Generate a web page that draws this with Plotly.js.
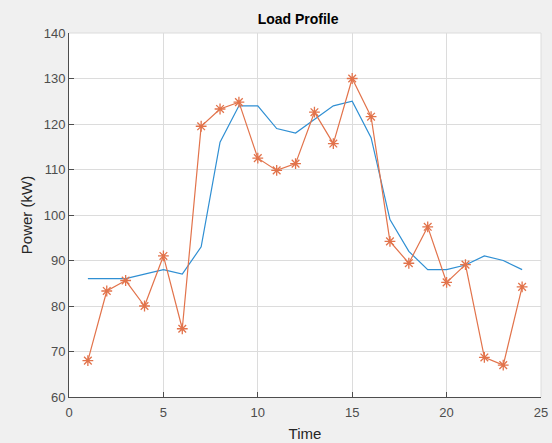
<!DOCTYPE html>
<html>
<head>
<meta charset="utf-8">
<script src="https://cdn.plot.ly/plotly-3.0.1.min.js"></script>
<style>html,body{margin:0;padding:0;background:#f0f0f0;}#chart{width:552px;height:443px;}</style>
</head>
<body>
<div id="chart"></div>
<script>
const hours = [1,2,3,4,5,6,7,8,9,10,11,12,13,14,15,16,17,18,19,20,21,22,23,24];
const forecastLoad = [86,86,86,87,88,87,93,116,124,124,119,118,121,124,125,117,99,92,88,88,89,91,90,88];
const actualLoad = [68,83.3,85.6,80,91,75,119.5,123.3,124.8,112.5,109.8,111.3,122.6,115.7,130,121.6,94.2,89.4,97.4,85.2,89.1,68.7,67,84.2];
const xTicks = [0,5,10,15,20,25];
const yTicks = [60,70,80,90,100,110,120,130,140];

const traces = [
  {x: hours, y: forecastLoad, type: 'scatter', mode: 'lines',
   line: {color: '#2f8fd3', width: 1.2}, showlegend: false},
  {x: hours, y: actualLoad, type: 'scatter', mode: 'lines+markers',
   line: {color: '#e2734b', width: 1.2},
   marker: {symbol: 'asterisk-open', size: 9, line: {color: '#D95319', width: 1.3}},
   showlegend: false}
];

const axisFont = {family: 'Liberation Sans, Arial, sans-serif', size: 13, color: '#4d4d4d'};
const layout = {
  width: 552, height: 443,
  paper_bgcolor: '#f0f0f0', plot_bgcolor: '#ffffff',
  margin: {l: 69, r: 11, t: 33, b: 46},
  title: {text: '<b>Load Profile</b>', x: 0.54, xanchor: 'center', y: 0.957, yanchor: 'middle',
          font: {family: 'Liberation Sans, Arial, sans-serif', size: 14, color: '#000000'}},
  xaxis: {range: [0, 25], tickvals: xTicks, ticktext: xTicks.map(String),
          ticks: 'inside', ticklen: 5, tickcolor: '#4d4d4d', ticklabelstandoff: 3,
          showline: true, linecolor: '#4d4d4d', linewidth: 1, mirror: false,
          showgrid: true, gridcolor: '#dcdcdc', zeroline: false,
          tickfont: axisFont,
          title: {text: 'Time', standoff: 9, font: {family: 'Liberation Sans, Arial, sans-serif', size: 15, color: '#262626'}}},
  yaxis: {range: [60, 140], tickvals: yTicks, ticktext: yTicks.map(String),
          ticks: 'inside', ticklen: 5, tickcolor: '#4d4d4d',
          showline: true, linecolor: '#4d4d4d', linewidth: 1, mirror: false,
          showgrid: true, gridcolor: '#dcdcdc', zeroline: false,
          tickfont: axisFont,
          title: {text: 'Power (kW)', standoff: 7, font: {family: 'Liberation Sans, Arial, sans-serif', size: 15, color: '#262626'}}},
  shapes: [
    {type: 'line', xref: 'paper', yref: 'paper', x0: 0, x1: 1, y0: 1, y1: 1, line: {color: '#dcdcdc', width: 1}, layer: 'below'},
    {type: 'line', xref: 'paper', yref: 'paper', x0: 1, x1: 1, y0: 0, y1: 1, line: {color: '#dcdcdc', width: 1}, layer: 'below'}
  ]
};
Plotly.newPlot('chart', traces, layout, {displayModeBar: false, staticPlot: true});
</script>
</body>
</html>
